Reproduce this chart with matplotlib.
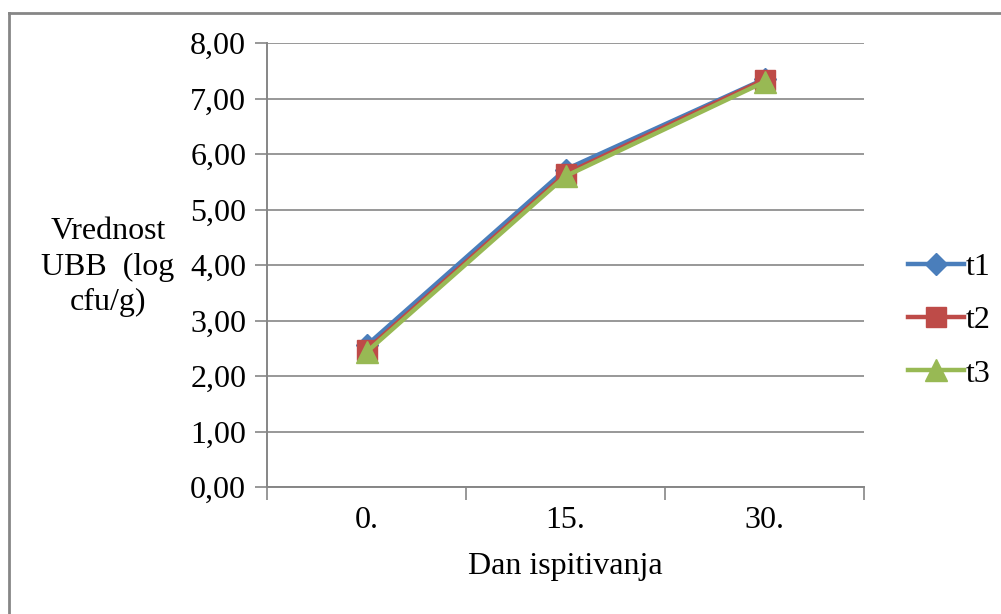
import matplotlib
matplotlib.use("Agg")
import matplotlib.pyplot as plt
from matplotlib.lines import Line2D

# Data
days = ["0.", "15.", "30."]
t1 = [2.55, 5.72, 7.35]
t2 = [2.47, 5.64, 7.34]
t3 = [2.43, 5.60, 7.30]
y_ticks = [0, 1, 2, 3, 4, 5, 6, 7, 8]

plt.rcParams["font.family"] = ["Liberation Serif", "DejaVu Serif"]
FS = 23

W, H = 1001, 614
fig = plt.figure(figsize=(W / 100, H / 100), dpi=100)

# Chart frame
frame_kw = dict(color="#868686", lw=2.0, transform=fig.transFigure)
fig.add_artist(Line2D([9 / W, 1.0], [1 - 12.5 / H, 1 - 12.5 / H], **frame_kw))
fig.add_artist(Line2D([9 / W, 9 / W], [0.0, 1 - 12.5 / H], **frame_kw))

ax = fig.add_axes([267 / W, 1 - 487 / H, (864 - 267) / W, (487 - 43) / H])

x = [0, 1, 2]
ax.plot(x, t1, color="#4A7EBB", lw=3.2, marker="D", ms=11, label="t1", zorder=3)
ax.plot(x, t2, color="#BE4B48", lw=3.2, marker="s", ms=15, label="t2", zorder=4)
ax.plot(x, t3, color="#98B954", lw=3.2, marker="^", ms=16, label="t3", zorder=5)

ax.set_xlim(-0.5, 2.5)
ax.set_ylim(0, 8)
ax.set_yticks(y_ticks)
ax.set_yticklabels([f"{v:.2f}".replace(".", ",") for v in y_ticks])
ax.set_xticks(x)
ax.set_xticklabels(days)
ax.set_xticks([-0.5, 0.5, 1.5, 2.5], minor=True)
ax.tick_params(axis="x", which="major", length=0, pad=14, labelsize=FS)
ax.tick_params(axis="x", which="minor", length=9, width=1.2, color="#868686")
ax.tick_params(axis="y", length=9, width=1.2, color="#868686", pad=6, labelsize=FS)

ax.grid(axis="y", color="#868686", lw=1.2)
ax.set_axisbelow(True)
for side in ["top", "right"]:
    ax.spines[side].set_visible(False)
for side in ["left", "bottom"]:
    ax.spines[side].set_color("#868686")
    ax.spines[side].set_linewidth(1.4)

ax.set_xlabel("Dan ispitivanja", fontsize=FS, labelpad=12)
fig.text(108 / W, 1 - 267 / H, "Vrednost\nUBB  (log\ncfu/g)", fontsize=FS,
         ha="center", va="center", linespacing=1.3)

ax.legend(loc="center left", bbox_to_anchor=(1.052, 0.375),
          frameon=False, fontsize=FS, handlelength=1.75, handletextpad=0.05,
          labelspacing=0.75, borderaxespad=0)

fig.savefig("out.png", dpi=100)
